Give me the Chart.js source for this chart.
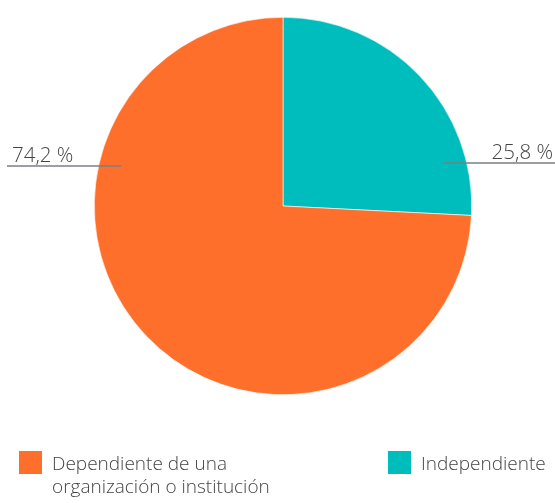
<!DOCTYPE html>
<html>
<head>
<meta charset="utf-8">
<script src="https://cdn.jsdelivr.net/npm/chart.js@4"></script>
<style>
  html, body { margin: 0; padding: 0; background: #fff; }
  #wrap { position: relative; width: 555px; height: 503px; }
  #legend { position: absolute; left: 0; top: 0; width: 555px; height: 503px; pointer-events: none;
    font-family: 'Open Sans', sans-serif; font-weight: 300; font-size: 19px; color: #444; line-height: 23px; }
  .item { position: absolute; top: 451px; }
  .box { position: absolute; left: 0; top: 0; width: 23px; height: 23px; }
  .txt { position: absolute; left: 33px; top: 1px; white-space: nowrap; }
</style>
</head>
<body>
<div id="wrap">
  <canvas id="chart" width="555" height="503"></canvas>
  <div id="legend"></div>
</div>
<script>
// DATA
const LABELS = ['Independiente', 'Dependiente de una organización o institución'];
const LEGEND_LINES = [['Independiente'], ['Dependiente de una', 'organización o institución']];
const VALUES = [25.8, 74.2];
const VALUE_TEXT = ['25,8 %', '74,2 %'];
const COLORS = ['#00bdbd', '#ff6f2c'];

const TEXT_COLOR = '#444';
const LINE_COLOR = '#7a7f85';

// leader lines + value labels (placed relative to the pie)
const valueLabels = {
    id: 'valueLabels',
    afterDatasetsDraw(chart) {
        const arc = chart.getDatasetMeta(0).data[0];
        const cx = arc.x, cy = arc.y, r = arc.outerRadius;
        const c = chart.ctx;
        c.save();
        c.font = "300 20.5px 'Open Sans', sans-serif";
        c.fillStyle = TEXT_COLOR;
        c.strokeStyle = LINE_COLOR;
        c.lineWidth = 1.5;

        // right label (Independiente)
        const yR = cy - r * 0.228;
        c.beginPath();
        c.moveTo(cx + r * 0.85, yR);
        c.lineTo(chart.width, yR);
        c.stroke();
        c.textAlign = 'right';
        c.textBaseline = 'alphabetic';
        c.fillText(VALUE_TEXT[0], chart.width - 2, yR - 4);

        // left label (Dependiente)
        const yL = cy - r * 0.212;
        c.beginPath();
        c.moveTo(7, yL);
        c.lineTo(cx - r * 0.857, yL);
        c.stroke();
        c.textAlign = 'left';
        c.fillText(VALUE_TEXT[1], 12, yL - 4);
        c.restore();
    }
};

new Chart(document.getElementById('chart'), {
    type: 'pie',
    data: {
        labels: LABELS,
        datasets: [{
            data: VALUES,
            backgroundColor: COLORS,
            borderColor: '#ffffff',
            borderWidth: 0.6
        }]
    },
    options: {
        responsive: false,
        animation: false,
        layout: { padding: { left: 94, right: 83, top: 17, bottom: 108 } },
        plugins: {
            legend: { display: false },
            tooltip: { enabled: false }
        }
    },
    plugins: [valueLabels]
});

// HTML legend
const legend = document.getElementById('legend');
const LEGEND_X = [19, 388];
[1, 0].forEach((i, k) => {
    const item = document.createElement('div');
    item.className = 'item';
    item.style.left = LEGEND_X[k] + 'px';
    item.innerHTML = `<div class="box" style="background:${COLORS[i]}"></div>
        <div class="txt">${LEGEND_LINES[i].join('<br>')}</div>`;
    legend.appendChild(item);
});
</script>
</body>
</html>
